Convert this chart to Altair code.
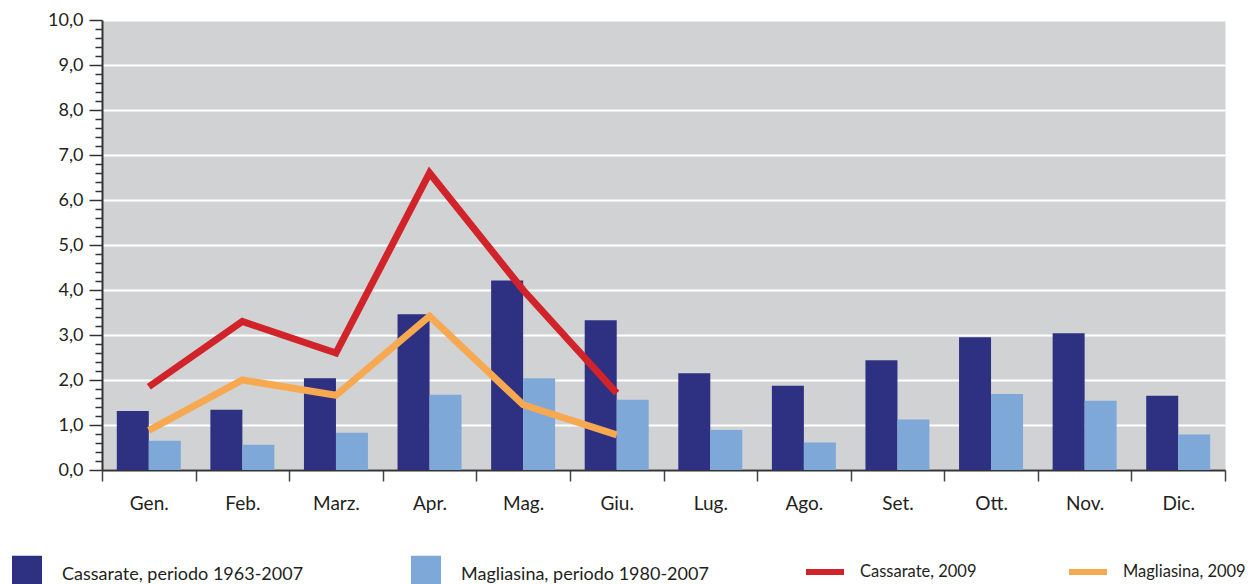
import altair as alt
import pandas as pd

mesi = ["Gen.", "Feb.", "Marz.", "Apr.", "Mag.", "Giu.", "Lug.", "Ago.", "Set.", "Ott.", "Nov.", "Dic."]
cassarate_periodo = [1.31, 1.34, 2.04, 3.46, 4.21, 3.33, 2.15, 1.87, 2.44, 2.95, 3.04, 1.65]
magliasina_periodo = [0.65, 0.56, 0.83, 1.67, 2.04, 1.56, 0.89, 0.61, 1.12, 1.69, 1.54, 0.79]
mesi_2009 = ["Gen.", "Feb.", "Marz.", "Apr.", "Mag.", "Giu."]
cassarate_2009 = [1.85, 3.30, 2.60, 6.60, 4.00, 1.71]
magliasina_2009 = [0.88, 2.00, 1.66, 3.42, 1.45, 0.78]

serie_barre = ["Cassarate, periodo 1963-2007", "Magliasina, periodo 1980-2007"]
serie_linee = ["Cassarate, 2009", "Magliasina, 2009"]
colori_barre = ["#2e3082", "#7ea8d8"]
colori_linee = ["#d1232a", "#f7a952"]
y_ticks = [round(i * 0.2, 1) for i in range(51)]

bars_df = pd.DataFrame({
    "Mese": mesi * 2,
    "Serie": [serie_barre[0]] * 12 + [serie_barre[1]] * 12,
    "Valore": cassarate_periodo + magliasina_periodo,
})
lines_df = pd.DataFrame({
    "Mese": mesi_2009 * 2,
    "Serie": [serie_linee[0]] * 6 + [serie_linee[1]] * 6,
    "Valore": cassarate_2009 + magliasina_2009,
})

FONT = "Lato"
TXT = "#231f20"
IS_MAJOR = "abs(datum.value - round(datum.value)) < 0.001"

x_axis = alt.Axis(
    title=None, labelAngle=0, tickBand="extent", tickSize=11, tickWidth=1.5,
    tickColor="#444444", labelPadding=13, domainColor="#333333", domainWidth=2,
    labelFont=FONT, labelFontSize=19, labelColor=TXT, grid=False,
)
y_axis = alt.Axis(
    title=None, values=y_ticks, tickCount=200, labelOverlap=False,
    labelExpr=IS_MAJOR + " ? replace(format(datum.value, '.1f'), '.', ',') : ''",
    tickSize={"condition": {"test": IS_MAJOR, "value": 13}, "value": 7},
    gridOpacity={"condition": {"test": IS_MAJOR, "value": 1}, "value": 0},
    grid=True, gridColor="#ffffff", gridWidth=2,
    tickColor="#333333", tickWidth=1.5, labelPadding=6,
    domainColor="#333333", domainWidth=2,
    labelFont=FONT, labelFontSize=18, labelColor=TXT,
)
x_enc = alt.X("Mese:N", sort=mesi, scale=alt.Scale(paddingInner=0, paddingOuter=0), axis=x_axis)
y_enc = alt.Y("Valore:Q", scale=alt.Scale(domain=[0, 10], nice=False, zero=True), axis=y_axis)

bars = alt.Chart(bars_df).mark_bar(strokeWidth=0).encode(
    x=x_enc,
    y=y_enc,
    xOffset=alt.XOffset("Serie:N", sort=serie_barre,
                        scale=alt.Scale(paddingOuter=0.4625, paddingInner=0)),
    fill=alt.Fill(
        "Serie:N",
        scale=alt.Scale(domain=serie_barre, range=colori_barre),
        legend=alt.Legend(
            title=None, orient="none", legendX=-90, legendY=540, direction="horizontal",
            symbolType="M-1,-1.3H1V1.3H-1Z", symbolSize=900, symbolStrokeWidth=0,
            symbolOpacity=1, labelFont=FONT, labelFontSize=18, labelColor=TXT,
            labelOffset=20, columnPadding=107, padding=0, labelLimit=400,
        ),
    ),
)

lines = alt.Chart(lines_df).mark_line(strokeWidth=7, strokeJoin="miter", strokeCap="butt").encode(
    x=x_enc,
    y=y_enc,
    stroke=alt.Stroke(
        "Serie:N",
        scale=alt.Scale(domain=serie_linee, range=colori_linee),
        legend=alt.Legend(
            title=None, orient="none", legendX=701, legendY=530, direction="horizontal",
            symbolType="stroke", symbolSize=1444, symbolStrokeWidth=6,
            labelFont=FONT, labelFontSize=16.5, labelColor=TXT,
            labelOffset=13, columnPadding=80, padding=0, labelLimit=400,
        ),
    ),
)

chart = alt.layer(bars, lines).resolve_scale(fill="independent", stroke="independent").properties(
    width=1123, height=450,
    autosize=alt.AutoSizeParams(type="none"),
    padding={"left": 94, "top": 12, "right": 23, "bottom": 120},
    background="#ffffff",
).configure_view(fill="#d1d2d4", stroke="transparent")

chart.save("out.html", embed_options={"renderer": "svg", "actions": False})
